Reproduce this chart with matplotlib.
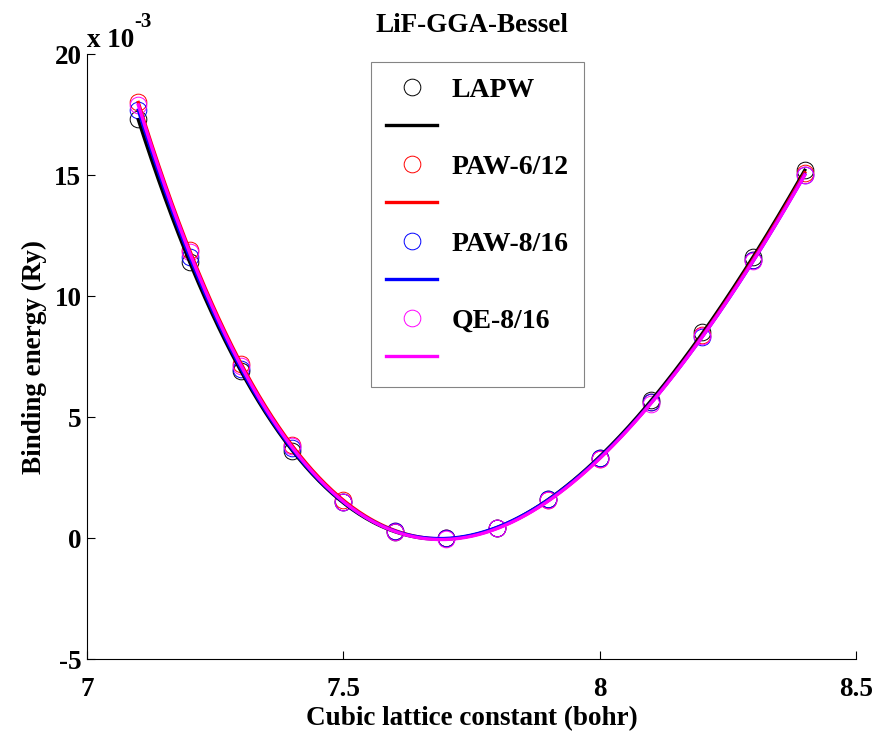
import numpy as np
import matplotlib
matplotlib.use('Agg')
import matplotlib.pyplot as plt
from matplotlib.lines import Line2D

plt.rcParams['font.family'] = ['Liberation Serif', 'DejaVu Serif']
plt.rcParams['font.weight'] = 'bold'
plt.rcParams['axes.unicode_minus'] = False

# lattice constants (bohr) and binding energies (units of 1e-3 Ry)
a = [7.1, 7.2, 7.3, 7.4, 7.5, 7.6, 7.7, 7.8, 7.9, 8.0, 8.1, 8.2, 8.3, 8.4]
lapw = [17.3, 11.4, 6.9, 3.6, 1.5, 0.25, 0.0, 0.4, 1.6, 3.3, 5.7, 8.5, 11.6, 15.2]
paw612 = [18.0, 11.9, 7.2, 3.85, 1.55, 0.3, 0.0, 0.4, 1.55, 3.25, 5.6, 8.4, 11.5, 15.1]
paw816 = [17.7, 11.6, 7.0, 3.7, 1.5, 0.3, 0.0, 0.4, 1.6, 3.3, 5.6, 8.3, 11.5, 15.0]
qe816 = [17.9, 11.8, 7.1, 3.8, 1.5, 0.25, -0.05, 0.4, 1.55, 3.25, 5.55, 8.35, 11.45, 15.0]

names = ['LAPW', 'PAW-6/12', 'PAW-8/16', 'QE-8/16']
colors = ['black', 'red', 'blue', 'magenta']
series = [lapw, paw612, paw816, qe816]

fs = 19.5

fig = plt.figure(figsize=(8.9, 7.35), dpi=100)
ax = fig.add_axes([0.0978, 0.1034, 0.864, 0.8231])

xf = np.linspace(min(a), max(a), 300)
for ys, c in zip(series, colors):
    ax.plot(a, ys, 'o', mfc='none', mec=c, ms=12, mew=0.7)
for ys, c in zip(series, colors):
    p = np.polyfit(a, ys, 4)
    ax.plot(xf, np.polyval(p, xf), color=c, lw=2.4)

ax.set_xlim(7, 8.5)
ax.set_ylim(-5, 20)
ax.set_xticks([7, 7.5, 8, 8.5])
ax.set_xticklabels(['7', '7.5', '8', '8.5'])
ax.set_yticks([-5, 0, 5, 10, 15, 20])
ax.spines['top'].set_visible(False)
ax.spines['right'].set_visible(False)
ax.tick_params(direction='in', labelsize=fs, length=6, width=0.8)
ax.tick_params(axis='x', pad=13)
ax.tick_params(axis='y', pad=4)
ax.set_xlabel('Cubic lattice constant (bohr)', fontsize=fs, fontweight='bold', labelpad=3)
ax.set_ylabel('Binding energy (Ry)', fontsize=fs, fontweight='bold', labelpad=5)
ax.set_title('LiF-GGA-Bessel', fontsize=fs, fontweight='bold', pad=16)
ax.text(0.0, 1.012, 'x 10', transform=ax.transAxes, fontsize=fs,
        fontweight='bold', va='baseline', ha='left')
ax.text(0.062, 1.045, '-3', transform=ax.transAxes, fontsize=15,
        fontweight='bold', va='baseline', ha='left')

# marker entries carry the names, the fit lines get empty labels
handles = []
labels = []
for n, c in zip(names, colors):
    handles.append(Line2D([], [], ls='none', marker='o', mfc='none', mec=c, ms=12, mew=0.7))
    labels.append(n)
    handles.append(Line2D([], [], color=c, lw=2.4))
    labels.append('')
leg = ax.legend(handles, labels, loc='upper left', bbox_to_anchor=(0.369, 0.987),
                borderaxespad=0, frameon=True, fancybox=False, edgecolor='0.4',
                handlelength=1.85, handletextpad=0.5, labelspacing=0.47,
                borderpad=0.55, prop={'weight': 'bold', 'size': 20})
leg.get_frame().set_linewidth(0.8)

fig.savefig('out.png', dpi=100)
